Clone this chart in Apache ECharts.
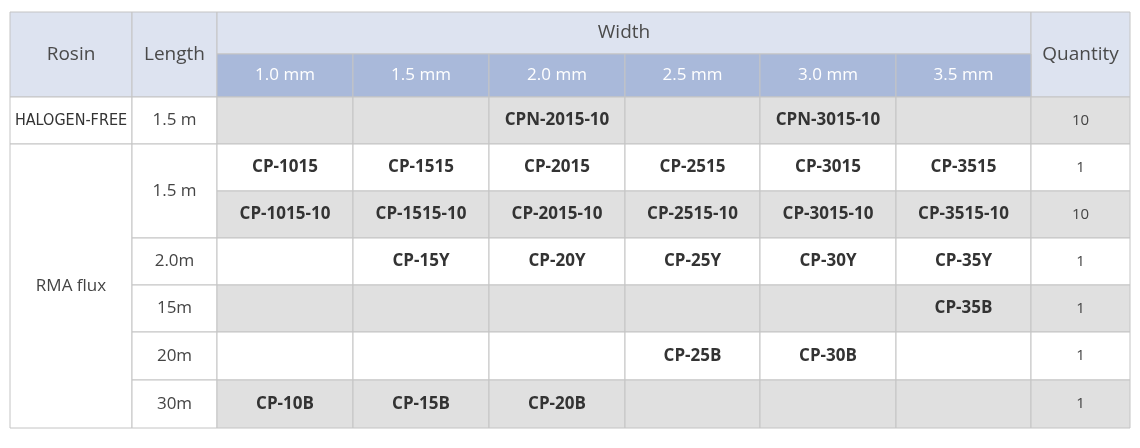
<!DOCTYPE html>
<html><head><meta charset="utf-8">
<script src="https://cdn.jsdelivr.net/npm/echarts@6/dist/echarts.min.js"></script>
<style>html,body{margin:0;padding:0;background:#fff}#c{width:1140px;height:448px}</style>
</head><body><div id="c"></div>
<script>
// ---- data ----
const headers = ['Rosin', 'Length', 'Width', 'Quantity'];
const widths = ['1.0 mm', '1.5 mm', '2.0 mm', '2.5 mm', '3.0 mm', '3.5 mm'];
const rosins = ['HALOGEN-FREE', 'RMA flux'];
const halogenLength = '1.5 m';
const halogenCodes = ['', '', 'CPN-2015-10', '', 'CPN-3015-10', ''];
const rmaLengths = ['1.5 m', '2.0m', '15m', '20m', '30m'];
const rmaLengthSpans = [2, 1, 1, 1, 1];
const rmaCodes = [
  ['CP-1015', 'CP-1515', 'CP-2015', 'CP-2515', 'CP-3015', 'CP-3515'],
  ['CP-1015-10', 'CP-1515-10', 'CP-2015-10', 'CP-2515-10', 'CP-3015-10', 'CP-3515-10'],
  ['', 'CP-15Y', 'CP-20Y', 'CP-25Y', 'CP-30Y', 'CP-35Y'],
  ['', '', '', '', '', 'CP-35B'],
  ['', '', '', 'CP-25B', 'CP-30B', ''],
  ['CP-10B', 'CP-15B', 'CP-20B', '', '', '']
];
const quantities = [10, 1, 10, 1, 1, 1, 1];

// ---- layout ----
const colEdges = [10, 132, 217, 353, 489, 625, 760, 896, 1031, 1130];
const rowEdges = [12, 54, 97, 144, 191, 238, 285, 332, 380, 428];
const C = {hdr: '#dde3f0', sub: '#a9b9da', gray: '#e0e0e0', white: '#ffffff'};

const cells = []; const styles = [];
function cell(c0, c1, r0, r1, text, fill, st) {
  cells.push([colEdges[c0], colEdges[c1], rowEdges[r0], rowEdges[r1]]);
  styles.push(Object.assign({text, fill}, st || {}));
}
const H = {color: '#4a4a4a', size: 19, weight: 'normal'};
cell(0, 1, 0, 2, headers[0], C.hdr, H);
cell(1, 2, 0, 2, headers[1], C.hdr, H);
cell(2, 8, 0, 1, headers[2], C.hdr, H);
cell(8, 9, 0, 2, headers[3], C.hdr, H);
widths.forEach((w, i) => cell(2 + i, 3 + i, 1, 2, w, C.sub, {color: '#fff', size: 17, weight: 'normal'}));
const B = {color: '#333', size: 17, weight: 'bold'};
const Q = {color: '#444', size: 15, weight: 'normal'};
const L = {color: '#444', size: 17, weight: 'normal'};
cell(0, 1, 2, 3, rosins[0], C.white, {color: '#333', size: 16, weight: 'normal', family: 'Liberation Sans Narrow, DejaVu Sans Condensed, sans-serif'});
cell(1, 2, 2, 3, halogenLength, C.white, L);
halogenCodes.forEach((t, i) => cell(2 + i, 3 + i, 2, 3, t, C.gray, B));
cell(8, 9, 2, 3, String(quantities[0]), C.gray, Q);
cell(0, 1, 3, 9, rosins[1], C.white, L);
let r = 3;
rmaLengths.forEach((l, i) => { cell(1, 2, r, r + rmaLengthSpans[i], l, C.white, L); r += rmaLengthSpans[i]; });
rmaCodes.forEach((row, j) => {
  const fill = j % 2 === 0 ? C.white : C.gray;
  row.forEach((t, i) => cell(2 + i, 3 + i, 3 + j, 4 + j, t, fill, B));
  cell(8, 9, 3 + j, 4 + j, String(quantities[j + 1]), fill, Q);
});

const chart = echarts.init(document.getElementById('c'));
chart.setOption({
  animation: false,
  grid: {left: 0, right: 0, top: 0, bottom: 0},
  xAxis: {type: 'value', min: 0, max: 1140, show: false},
  yAxis: {type: 'value', min: 0, max: 448, inverse: true, show: false},
  series: [{
    type: 'custom',
    data: cells,
    renderItem: function (params, api) {
      const s = styles[params.dataIndex];
      const p0 = api.coord([api.value(0), api.value(2)]);
      const p1 = api.coord([api.value(1), api.value(3)]);
      return {
        type: 'group',
        children: [
          {type: 'rect', shape: {x: p0[0], y: p0[1], width: p1[0] - p0[0], height: p1[1] - p0[1]},
           style: {fill: s.fill, stroke: '#c4c4c4', lineWidth: 1}},
          {type: 'text', x: (p0[0] + p1[0]) / 2, y: (p0[1] + p1[1]) / 2,
           style: {text: s.text, fill: s.color, fontSize: s.size, fontWeight: s.weight,
                   fontFamily: s.family || 'Open Sans, Noto Sans, sans-serif', align: 'center', verticalAlign: 'middle'}}
        ]
      };
    }
  }]
});
</script></body></html>
